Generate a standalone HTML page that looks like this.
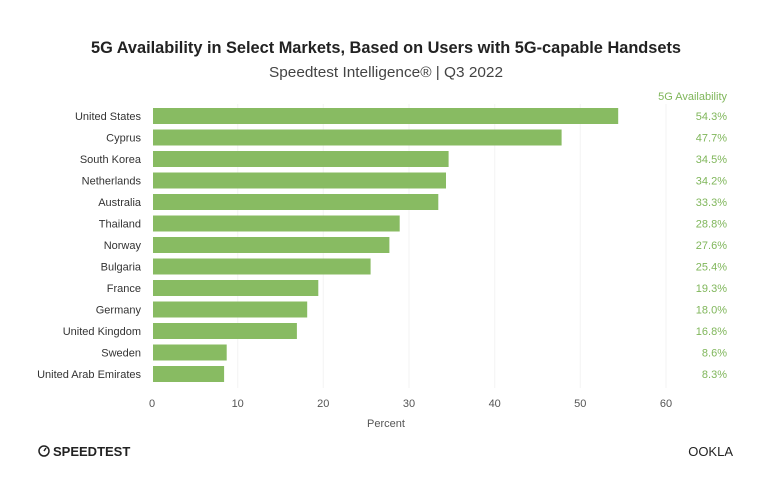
<!DOCTYPE html>
<html><head><style>
body{margin:0;background:#fff;}
svg text{font-family:"Liberation Sans",sans-serif;}
</style></head><body>
<svg width="773" height="499" viewBox="0 0 773 499" xmlns="http://www.w3.org/2000/svg">
<rect width="773" height="499" fill="#fff"/>
<text x="386" y="53" text-anchor="middle" font-size="17" font-weight="bold" fill="#222" textLength="590" lengthAdjust="spacingAndGlyphs">5G Availability in Select Markets, Based on Users with 5G-capable Handsets</text>
<text x="386" y="77" text-anchor="middle" font-size="15" fill="#444" textLength="234" lengthAdjust="spacingAndGlyphs">Speedtest Intelligence® | Q3 2022</text>
<text x="727" y="100" text-anchor="end" font-size="11" fill="#7fb65a">5G Availability</text>
<g stroke="#f3f3f3" stroke-width="1">
<line x1="237.7" y1="104" x2="237.7" y2="388"/><line x1="323.3" y1="104" x2="323.3" y2="388"/><line x1="409" y1="104" x2="409" y2="388"/><line x1="494.7" y1="104" x2="494.7" y2="388"/><line x1="580.3" y1="104" x2="580.3" y2="388"/><line x1="666" y1="104" x2="666" y2="388"/>
</g>
<g fill="#88bb62">
<rect x="153" y="108" width="465.2" height="16"/>
<rect x="153" y="129.5" width="408.6" height="16"/>
<rect x="153" y="151" width="295.6" height="16"/>
<rect x="153" y="172.5" width="293" height="16"/>
<rect x="153" y="194" width="285.3" height="16"/>
<rect x="153" y="215.5" width="246.7" height="16"/>
<rect x="153" y="237" width="236.4" height="16"/>
<rect x="153" y="258.5" width="217.6" height="16"/>
<rect x="153" y="280" width="165.3" height="16"/>
<rect x="153" y="301.5" width="154.2" height="16"/>
<rect x="153" y="323" width="143.9" height="16"/>
<rect x="153" y="344.5" width="73.7" height="16"/>
<rect x="153" y="366" width="71.1" height="16"/>
</g>
<g font-size="11" fill="#333" text-anchor="end">
<text x="141" y="120">United States</text>
<text x="141" y="141.5">Cyprus</text>
<text x="141" y="163">South Korea</text>
<text x="141" y="184.5">Netherlands</text>
<text x="141" y="206">Australia</text>
<text x="141" y="227.5">Thailand</text>
<text x="141" y="249">Norway</text>
<text x="141" y="270.5">Bulgaria</text>
<text x="141" y="292">France</text>
<text x="141" y="313.5">Germany</text>
<text x="141" y="335">United Kingdom</text>
<text x="141" y="356.5">Sweden</text>
<text x="141" y="378">United Arab Emirates</text>
</g>
<g font-size="11" fill="#7fb65a" text-anchor="end">
<text x="727" y="120">54.3%</text>
<text x="727" y="141.5">47.7%</text>
<text x="727" y="163">34.5%</text>
<text x="727" y="184.5">34.2%</text>
<text x="727" y="206">33.3%</text>
<text x="727" y="227.5">28.8%</text>
<text x="727" y="249">27.6%</text>
<text x="727" y="270.5">25.4%</text>
<text x="727" y="292">19.3%</text>
<text x="727" y="313.5">18.0%</text>
<text x="727" y="335">16.8%</text>
<text x="727" y="356.5">8.6%</text>
<text x="727" y="378">8.3%</text>
</g>
<g font-size="11" fill="#555" text-anchor="middle">
<text x="152" y="407">0</text><text x="237.7" y="407">10</text><text x="323.3" y="407">20</text><text x="409" y="407">30</text><text x="494.7" y="407">40</text><text x="580.3" y="407">50</text><text x="666" y="407">60</text>
<text x="386" y="427">Percent</text>
</g>
<g fill="none" stroke="#222" stroke-width="1.5"><circle cx="44" cy="451" r="5"/><line x1="44" y1="451" x2="46" y2="448"/></g>
<text x="53" y="456" font-size="13" font-weight="bold" fill="#222">SPEEDTEST</text>
<text x="733" y="456" text-anchor="end" font-size="13" fill="#222">OOKLA</text>
</svg>
</body></html>
